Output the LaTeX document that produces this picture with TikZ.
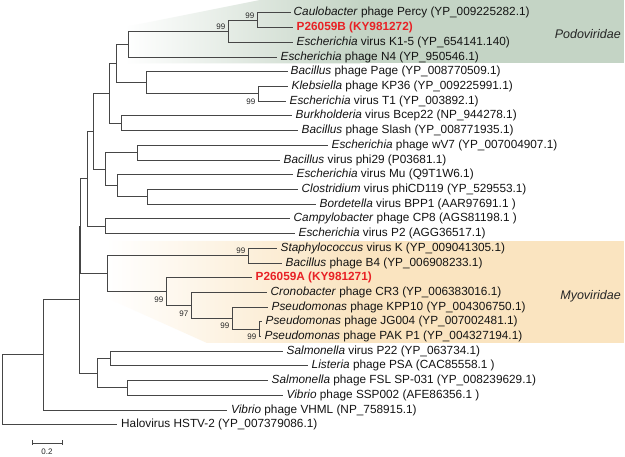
\documentclass[tikz,border=0pt]{standalone}
\usepackage{fontspec}
\setmainfont{Liberation Sans}
\definecolor{podo}{RGB}{196,212,197}
\definecolor{myo}{RGB}{250,228,192}
\definecolor{redlab}{RGB}{232,34,38}
\definecolor{brc}{RGB}{70,70,70}
\begin{document}
\begin{tikzpicture}[x=1pt,y=-1pt,
  br/.style={draw=brc,line width=1pt},
  leaf/.style={anchor=west,inner sep=0pt,text height=8.6pt,text depth=2.6pt,font=\fontsize{11.8}{13}\selectfont,text=black!92},
  redleaf/.style={leaf,text=redlab,font=\fontsize{11.8}{13}\selectfont\bfseries},
  bs/.style={anchor=east,inner sep=0pt,font=\fontsize{8}{9}\selectfont,text=black!85},
  fam/.style={anchor=east,inner sep=0pt,font=\fontsize{12.5}{14}\selectfont\itshape,text=black!85}]
\useasboundingbox (0,0) rectangle (625,457);
\fill[white] (0,0) rectangle (625,457);
% family shading
\shade[left color=white,right color=podo] (125,27) -- (260,0) -- (360,0) -- (360,63.5) -- (125,63.5) -- cycle;
\fill[podo] (359.5,0) rectangle (624,63.5);
\shade[left color=white,right color=myo] (107,241) -- (360,241) -- (360,343) -- (207,343) -- (107,298) -- cycle;
\fill[myo] (359.5,241) rectangle (624,343);
\node[fam] (podolab) at (621,34) {Podoviridae};
\node[fam] (myolab) at (621,296) {Myoviridae};
% leaf ends
\coordinate (L1) at (291,13.0);
\coordinate (L2) at (293,27.7);
\coordinate (L3) at (293,42.4);
\coordinate (L4) at (277,57.1);
\coordinate (L5) at (288,71.8);
\coordinate (L6) at (288,86.6);
\coordinate (L7) at (286,101.3);
\coordinate (L8) at (292,116.0);
\coordinate (L9) at (298,130.7);
\coordinate (L10) at (328,145.4);
\coordinate (L11) at (280,160.1);
\coordinate (L12) at (293,174.8);
\coordinate (L13) at (298,189.5);
\coordinate (L14) at (316,204.2);
\coordinate (L15) at (290,218.9);
\coordinate (L16) at (295,233.6);
\coordinate (L17) at (277,248.4);
\coordinate (L18) at (282,263.1);
\coordinate (L19) at (252,277.8);
\coordinate (L20) at (267,292.5);
\coordinate (L21) at (268,307.2);
\coordinate (L22) at (262,321.9);
\coordinate (L23) at (261,336.6);
\coordinate (L24) at (283,351.3);
\coordinate (L25) at (308,366.0);
\coordinate (L26) at (268,380.7);
\coordinate (L27) at (283,395.4);
\coordinate (L28) at (227,410.1);
\coordinate (L29) at (117,424.8);
% internal nodes
\coordinate (n1) at (257,20.35);
\coordinate (n2) at (228,31.4);
\coordinate (n3) at (128,44.2);
\coordinate (n4) at (258,93.9);
\coordinate (n5) at (146,82.9);
\coordinate (n6) at (116,63.6);
\coordinate (n7) at (121,123.4);
\coordinate (n8) at (109,93.5);
\coordinate (n9) at (137,152.8);
\coordinate (n10) at (147,196.9);
\coordinate (n11) at (117,185.8);
\coordinate (n12) at (105,169.3);
\coordinate (n13) at (93.5,131.4);
\coordinate (n14) at (105,226.3);
\coordinate (n15) at (87,178.8);
\coordinate (m1) at (248,255.7);
\coordinate (m2) at (259,329.3);
\coordinate (m3) at (232,318.2);
\coordinate (m4) at (191,305.4);
\coordinate (m5) at (166,291.6);
\coordinate (m6) at (107,273.6);
\coordinate (n16) at (80.5,226.2);
\coordinate (s1) at (110,358.7);
\coordinate (s2) at (127,388.0);
\coordinate (s3) at (97,373.3);
\coordinate (n17) at (79,299.8);
\coordinate (n18) at (43,354.9);
\coordinate (root) at (2,389.9);
% branches
\draw[br] (n1) |- (L1); \draw[br] (n1) |- (L2);
\draw[br] (n2) |- (n1); \draw[br] (n2) |- (L3);
\draw[br] (n3) |- (n2); \draw[br] (n3) |- (L4);
\draw[br] (n4) |- (L6); \draw[br] (n4) |- (L7);
\draw[br] (n5) |- (L5); \draw[br] (n5) |- (n4);
\draw[br] (n6) |- (n3); \draw[br] (n6) |- (n5);
\draw[br] (n7) |- (L8); \draw[br] (n7) |- (L9);
\draw[br] (n8) |- (n6); \draw[br] (n8) |- (n7);
\draw[br] (n9) |- (L10); \draw[br] (n9) |- (L11);
\draw[br] (n10) |- (L13); \draw[br] (n10) |- (L14);
\draw[br] (n11) |- (L12); \draw[br] (n11) |- (n10);
\draw[br] (n12) |- (n9); \draw[br] (n12) |- (n11);
\draw[br] (n13) |- (n8); \draw[br] (n13) |- (n12);
\draw[br] (n14) |- (L15); \draw[br] (n14) |- (L16);
\draw[br] (n15) |- (n13); \draw[br] (n15) |- (n14);
\draw[br] (m1) |- (L17); \draw[br] (m1) |- (L18);
\draw[br] (m2) |- (L22); \draw[br] (m2) |- (L23);
\draw[br] (m3) |- (L21); \draw[br] (m3) |- (m2);
\draw[br] (m4) |- (L20); \draw[br] (m4) |- (m3);
\draw[br] (m5) |- (L19); \draw[br] (m5) |- (m4);
\draw[br] (m6) |- (m1); \draw[br] (m6) |- (m5);
\draw[br] (n16) |- (n15); \draw[br] (n16) |- (m6);
\draw[br] (s1) |- (L24); \draw[br] (s1) |- (L25);
\draw[br] (s2) |- (L26); \draw[br] (s2) |- (L27);
\draw[br] (s3) |- (s1); \draw[br] (s3) |- (s2);
\draw[br] (n17) |- (n16); \draw[br] (n17) |- (s3);
\draw[br] (n18) |- (n17); \draw[br] (n18) |- (L28);
\draw[br] (root) |- (n18); \draw[br] (root) |- (L29);
% bootstrap values
\node[bs] (b1) at ([shift={(-2.5,-5)}]n1) {99};
\node[bs] (b2) at ([shift={(-2.5,-5)}]n2) {99};
\node[bs] (b4) at ([shift={(-2.5,7.5)}]n4) {99};
\node[bs] (bm1) at ([shift={(-2.5,-5)}]m1) {99};
\node[bs] (bm5) at ([shift={(-2.5,7.8)}]m5) {99};
\node[bs] (bm4) at ([shift={(-2.5,8.2)}]m4) {97};
\node[bs] (bm3) at ([shift={(-2.5,7.3)}]m3) {99};
\node[bs] (bm2) at ([shift={(-2.5,7.8)}]m2) {99};
% leaf labels
\node[leaf] (T1) at ([xshift=2.5]L1) {\textit{Caulobacter} phage Percy (YP\_009225282.1)};
\node[redleaf] (T2) at ([xshift=3.5]L2) {P26059B (KY981272)};
\node[leaf] (T3) at ([xshift=3.5]L3) {\textit{Escherichia} virus K1-5 (YP\_654141.140)};
\node[leaf] (T4) at ([xshift=3.5]L4) {\textit{Escherichia} phage N4 (YP\_950546.1)};
\node[leaf] (T5) at ([xshift=2.5]L5) {\textit{Bacillus} phage Page (YP\_008770509.1)};
\node[leaf] (T6) at ([xshift=3.5]L6) {\textit{Klebsiella} phage KP36 (YP\_009225991.1)};
\node[leaf] (T7) at ([xshift=3.5]L7) {\textit{Escherichia} virus T1 (YP\_003892.1)};
\node[leaf] (T8) at ([xshift=3.5]L8) {\textit{Burkholderia} virus Bcep22 (NP\_944278.1)};
\node[leaf] (T9) at ([xshift=3.5]L9) {\textit{Bacillus} phage Slash (YP\_008771935.1)};
\node[leaf] (T10) at ([xshift=3.5]L10) {\textit{Escherichia} phage wV7 (YP\_007004907.1)};
\node[leaf] (T11) at ([xshift=3.5]L11) {\textit{Bacillus} virus phi29 (P03681.1)};
\node[leaf] (T12) at ([xshift=3.5]L12) {\textit{Escherichia} virus Mu (Q9T1W6.1)};
\node[leaf] (T13) at ([xshift=3.5]L13) {\textit{Clostridium} virus phiCD119 (YP\_529553.1)};
\node[leaf] (T14) at ([xshift=3.5]L14) {\textit{Bordetella} virus BPP1 (AAR97691.1 )};
\node[leaf] (T15) at ([xshift=3.5]L15) {\textit{Campylobacter} phage CP8 (AGS81198.1 )};
\node[leaf] (T16) at ([xshift=3.5]L16) {\textit{Escherichia} virus P2 (AGG36517.1)};
\node[leaf] (T17) at ([xshift=3.5]L17) {\textit{Staphylococcus} virus K (YP\_009041305.1)};
\node[leaf] (T18) at ([xshift=3.5]L18) {\textit{Bacillus} phage B4 (YP\_006908233.1)};
\node[redleaf] (T19) at ([xshift=3.5]L19) {P26059A (KY981271)};
\node[leaf] (T20) at ([xshift=3.5]L20) {\textit{Cronobacter} phage CR3 (YP\_006383016.1)};
\node[leaf] (T21) at ([xshift=3.5]L21) {\textit{Pseudomonas} phage KPP10 (YP\_004306750.1)};
\node[leaf] (T22) at ([xshift=3.5]L22) {\textit{Pseudomonas} phage JG004 (YP\_007002481.1)};
\node[leaf] (T23) at ([xshift=3.5]L23) {\textit{Pseudomonas} phage PAK P1 (YP\_004327194.1)};
\node[leaf] (T24) at ([xshift=3.5]L24) {\textit{Salmonella} virus P22 (YP\_063734.1)};
\node[leaf] (T25) at ([xshift=3.5]L25) {\textit{Listeria} phage PSA (CAC85558.1 )};
\node[leaf] (T26) at ([xshift=3.5]L26) {\textit{Salmonella} phage FSL SP-031 (YP\_008239629.1)};
\node[leaf] (T27) at ([xshift=3.5]L27) {\textit{Vibrio} phage SSP002 (AFE86356.1 )};
\node[leaf] (T28) at ([xshift=4]L28) {\textit{Vibrio} phage VHML (NP\_758915.1)};
\node[leaf] (T29) at ([xshift=4]L29) {Halovirus HSTV-2 (YP\_007379086.1)};
% scale bar
\coordinate (sbL) at (32,443);
\coordinate (sbR) at (62,443);
\draw[br,line width=0.9pt] ([yshift=2.5pt]sbL) -- ([yshift=-2.5pt]sbL);
\draw[br,line width=0.9pt] ([yshift=2.5pt]sbR) -- ([yshift=-2.5pt]sbR);
\draw[br,line width=0.9pt] (sbL) -- (sbR);
\node[inner sep=0pt,font=\fontsize{8}{9}\selectfont,text=black!85] (sblab) at (47,452) {0.2};
\end{tikzpicture}
\end{document}
